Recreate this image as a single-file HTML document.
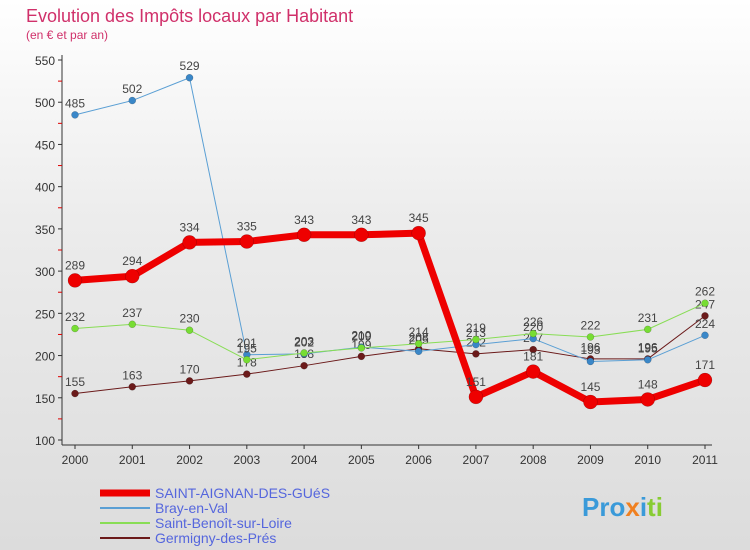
<!DOCTYPE html>
<html><head><meta charset="utf-8"><style>
body{margin:0;width:750px;height:550px;overflow:hidden;font-family:"Liberation Sans",sans-serif;}
#wrap{position:relative;width:750px;height:550px;background:linear-gradient(#ffffff,#ececec 40%,#dcdcdc);}
</style></head><body>
<div id="wrap">
<svg id="chart" width="750" height="550" style="position:absolute;left:0;top:0"></svg>
</div>
<script>
const years=["2000","2001","2002","2003","2004","2005","2006","2007","2008","2009","2010","2011"];
const yTicks=[100,150,200,250,300,350,400,450,500,550];
const saint=[289,294,334,335,343,343,345,151,181,145,148,171];
const bray=[485,502,529,201,202,210,205,213,220,193,195,224];
const benoit=[232,237,230,195,203,209,214,219,226,222,231,262];
const germ=[155,163,170,178,188,199,208,202,207,196,196,247];
const NS="http://www.w3.org/2000/svg";
const svg=document.getElementById('chart');
function X(i){return 75+i*(630/11);}
function Y(v){return 440-(v-100)*(380/450);}
function mk(t,a,p){const e=document.createElementNS(NS,t);for(const k in a)e.setAttribute(k,a[k]);(p||svg).appendChild(e);return e;}
let t=mk('text',{x:26,y:22,'font-size':18,fill:'#d0306a'});t.textContent='Evolution des Impôts locaux par Habitant';

t=mk('text',{x:26,y:39,'font-size':12,fill:'#d0306a'});t.textContent='(en € et par an)';

// axes
let ax=mk('line',{x1:62,y1:55,x2:62,y2:445,stroke:'#333','stroke-width':1});

ax=mk('line',{x1:62,y1:445,x2:712,y2:445,stroke:'#333','stroke-width':1});

yTicks.forEach(v=>{
 const l=mk('text',{x:55,y:Y(v)+5,'font-size':12,fill:'#333','text-anchor':'end'});l.textContent=v;
 
 mk('line',{x1:58,y1:Y(v),x2:62,y2:Y(v),stroke:'#333'});
 if(v<550)mk('line',{x1:58,y1:Y(v+25),x2:62,y2:Y(v+25),stroke:'#d00'});
});
years.forEach((y,i)=>{
 mk('line',{x1:X(i),y1:445,x2:X(i),y2:449,stroke:'#333'});
 const l=mk('text',{x:X(i),y:464,'font-size':12,fill:'#333','text-anchor':'middle'});l.textContent=y;
 
});
function series(data,color,w,r,name,dot){
 const g=mk('g',{});
 mk('polyline',{points:data.map((v,i)=>X(i)+','+Y(v)).join(' '),fill:'none',stroke:color,'stroke-width':w,'stroke-linejoin':'round'},g);
 data.forEach((v,i)=>{
  const c=mk('circle',{cx:X(i),cy:Y(v),r:r,fill:dot,stroke:'rgba(0,0,0,0.3)','stroke-width':0.5},g);
  
  const l=mk('text',{x:X(i),y:Y(v)-(r+4),'font-size':12,fill:'#444','text-anchor':'middle'},g);l.textContent=v;
 });
}
series(germ,'#6b1a1a',1,3.5,'series-germigny','#6b1a1a');
series(bray,'#5a9fd4',1,3.5,'series-bray','#3a87c8');
series(benoit,'#88dd55',1,3.5,'series-saint-benoit','#77dd33');
series(saint,'#ee0000',7,7,'series-saint-aignan','#ee0000');
// legend
const leg=[['SAINT-AIGNAN-DES-GUéS','#ee0000',7],['Bray-en-Val','#5a9fd4',2],['Saint-Benoît-sur-Loire','#88dd55',2],['Germigny-des-Prés','#6b1a1a',2]];
leg.forEach((e,i)=>{
 const g=mk('g',{});
 const y=493+i*15;
 mk('line',{x1:100,y1:y,x2:150,y2:y,stroke:e[1],'stroke-width':e[2]},g);
 const l=mk('text',{x:155,y:y+5,'font-size':14,fill:'#5566dd'},g);l.textContent=e[0];
});
const logo=mk('text',{x:582,y:516,'font-size':26,'font-weight':'bold',fill:'#3a9ad9'});
logo.innerHTML='<tspan fill="#3a9ad9">Pro</tspan><tspan fill="#f08020">x</tspan><tspan fill="#3a9ad9">i</tspan><tspan fill="#88cc33">ti</tspan>';

</script>
</body></html>
